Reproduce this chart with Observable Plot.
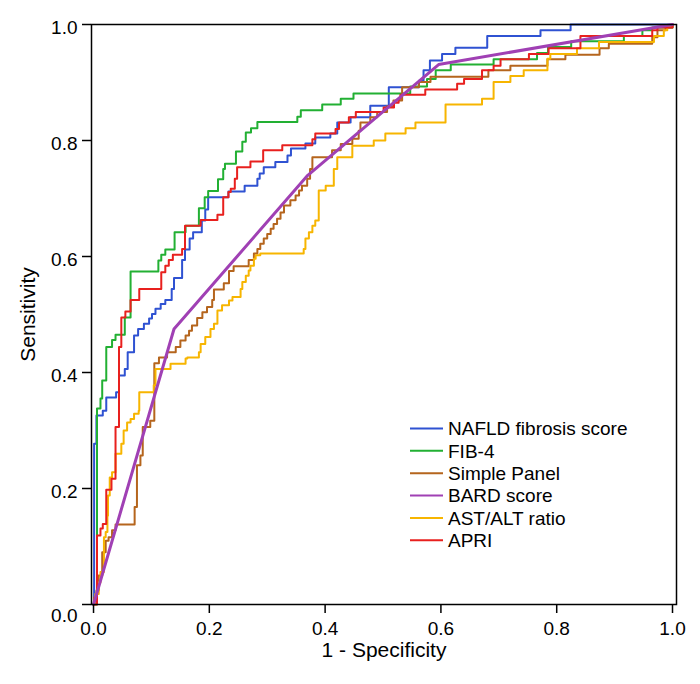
<!DOCTYPE html>
<html><head><meta charset="utf-8">
<script src="https://cdn.jsdelivr.net/npm/d3@7"></script>
<script src="https://cdn.jsdelivr.net/npm/@observablehq/plot@0.6"></script>
<style>
html,body{margin:0;padding:0;background:#fff;}
#chart{width:700px;height:684px;}
</style></head><body><div id="chart"></div>
<script>
// Series names and colours (legend order)
const seriesNames = ["NAFLD fibrosis score", "FIB-4", "Simple Panel", "BARD score", "AST/ALT ratio", "APRI"];
const seriesColors = ["#2f52d2", "#22b033", "#b5651d", "#a040b4", "#f7b500", "#e8201e"];

// ROC points [1 - specificity, sensitivity]
const nafld = [[0,0],[0.001,0.277],[0.005,0.326],[0.016,0.334],[0.022,0.357],[0.039,0.366],[0.044,0.395],[0.054,0.406],[0.059,0.435],[0.070,0.464],[0.077,0.475],[0.087,0.484],[0.096,0.493],[0.101,0.501],[0.107,0.510],[0.116,0.518],[0.124,0.525],[0.135,0.544],[0.139,0.563],[0.153,0.594],[0.158,0.612],[0.166,0.631],[0.172,0.642],[0.187,0.662],[0.193,0.681],[0.198,0.702],[0.233,0.712],[0.261,0.722],[0.283,0.734],[0.287,0.743],[0.294,0.754],[0.314,0.763],[0.335,0.774],[0.341,0.786],[0.366,0.795],[0.383,0.805],[0.409,0.812],[0.421,0.831],[0.444,0.840],[0.478,0.860],[0.510,0.892],[0.562,0.903],[0.570,0.921],[0.581,0.938],[0.602,0.949],[0.625,0.960],[0.680,0.980],[0.772,0.990],[0.824,1.0],[1,1]];
const fib4 = [[0,0],[0.006,0.338],[0.012,0.355],[0.015,0.386],[0.022,0.444],[0.032,0.456],[0.038,0.465],[0.054,0.495],[0.064,0.574],[0.112,0.593],[0.117,0.603],[0.124,0.612],[0.140,0.642],[0.159,0.653],[0.182,0.683],[0.192,0.702],[0.198,0.713],[0.215,0.733],[0.224,0.751],[0.227,0.760],[0.246,0.781],[0.257,0.798],[0.263,0.814],[0.272,0.821],[0.283,0.832],[0.352,0.841],[0.358,0.852],[0.395,0.862],[0.427,0.872],[0.449,0.881],[0.547,0.893],[0.576,0.906],[0.591,0.921],[0.617,0.931],[0.691,0.940],[0.766,0.951],[0.785,0.961],[0.825,0.971],[0.916,0.980],[0.948,0.990],[0.965,0.995],[1,1]];
const simplePanel = [[0,0],[0.001,0.012],[0.005,0.024],[0.009,0.050],[0.015,0.090],[0.021,0.110],[0.026,0.116],[0.032,0.128],[0.038,0.138],[0.071,0.168],[0.075,0.240],[0.081,0.257],[0.085,0.306],[0.098,0.317],[0.105,0.416],[0.113,0.426],[0.127,0.435],[0.142,0.444],[0.150,0.455],[0.159,0.464],[0.165,0.472],[0.170,0.481],[0.179,0.494],[0.188,0.504],[0.196,0.513],[0.205,0.525],[0.208,0.543],[0.225,0.554],[0.234,0.575],[0.242,0.583],[0.268,0.594],[0.277,0.605],[0.283,0.613],[0.288,0.622],[0.294,0.631],[0.300,0.639],[0.306,0.648],[0.311,0.656],[0.317,0.665],[0.323,0.676],[0.329,0.688],[0.340,0.697],[0.349,0.705],[0.355,0.714],[0.360,0.722],[0.369,0.734],[0.374,0.751],[0.378,0.771],[0.412,0.783],[0.427,0.794],[0.447,0.803],[0.458,0.817],[0.461,0.831],[0.478,0.840],[0.490,0.849],[0.507,0.859],[0.518,0.869],[0.533,0.892],[0.562,0.901],[0.582,0.910],[0.682,0.921],[0.720,0.929],[0.784,0.940],[0.815,0.948],[0.874,0.959],[0.890,0.967],[0.965,0.978],[0.974,0.990],[0.988,0.995],[1,1]];
const bard = [[0,0],[0.139,0.475],[0.370,0.740],[0.596,0.931],[1,1]];
const astAlt = [[0,0],[0.003,0.018],[0.009,0.038],[0.012,0.056],[0.018,0.116],[0.021,0.125],[0.024,0.153],[0.025,0.188],[0.028,0.219],[0.032,0.228],[0.038,0.260],[0.048,0.277],[0.052,0.300],[0.058,0.314],[0.064,0.320],[0.070,0.329],[0.078,0.334],[0.079,0.366],[0.104,0.378],[0.107,0.406],[0.133,0.415],[0.159,0.424],[0.162,0.426],[0.182,0.435],[0.185,0.449],[0.193,0.461],[0.202,0.475],[0.208,0.484],[0.214,0.507],[0.222,0.516],[0.234,0.524],[0.240,0.530],[0.254,0.544],[0.257,0.556],[0.263,0.567],[0.268,0.576],[0.271,0.584],[0.277,0.596],[0.280,0.602],[0.288,0.605],[0.363,0.613],[0.366,0.631],[0.372,0.642],[0.378,0.653],[0.383,0.662],[0.389,0.714],[0.401,0.722],[0.415,0.751],[0.421,0.771],[0.447,0.791],[0.484,0.800],[0.504,0.812],[0.539,0.821],[0.556,0.831],[0.608,0.862],[0.671,0.872],[0.691,0.901],[0.720,0.911],[0.743,0.921],[0.784,0.941],[0.789,0.949],[0.835,0.959],[0.873,0.970],[0.968,0.980],[0.985,0.990],[0.991,0.998],[1,1]];
const apri = [[0,0],[0.006,0.119],[0.012,0.131],[0.016,0.139],[0.022,0.198],[0.031,0.217],[0.038,0.306],[0.044,0.444],[0.048,0.495],[0.055,0.505],[0.064,0.525],[0.079,0.544],[0.117,0.573],[0.124,0.584],[0.130,0.594],[0.137,0.603],[0.153,0.613],[0.158,0.653],[0.185,0.663],[0.214,0.672],[0.224,0.702],[0.233,0.711],[0.237,0.717],[0.244,0.734],[0.248,0.754],[0.271,0.764],[0.293,0.783],[0.326,0.792],[0.378,0.802],[0.383,0.812],[0.418,0.820],[0.424,0.831],[0.441,0.840],[0.453,0.849],[0.501,0.857],[0.519,0.865],[0.527,0.872],[0.530,0.879],[0.573,0.888],[0.628,0.898],[0.640,0.906],[0.671,0.921],[0.691,0.929],[0.703,0.940],[0.752,0.949],[0.786,0.959],[0.841,0.980],[0.965,0.990],[0.974,0.995],[1,1]];

const xTicks = [0, 0.2, 0.4, 0.6, 0.8, 1.0];
const yTicks = [0, 0.2, 0.4, 0.6, 0.8, 1.0];
const xTitle = "1 - Specificity";
const yTitle = "Sensitivity";

const toRows = (pts, name) => pts.map(([fpr, tpr]) => ({name, fpr, tpr}));
const stepSeries = [
  ["NAFLD fibrosis score", nafld],
  ["FIB-4", fib4],
  ["Simple Panel", simplePanel],
  ["AST/ALT ratio", astAlt],
  ["APRI", apri]
];
const font = "'Liberation Sans', Arial, Helvetica, sans-serif";
const fmt = d => d.toFixed(1);

const stepMarks = stepSeries.map(([name, pts]) =>
  Plot.line(toRows(pts, name), {x: "fpr", y: "tpr", stroke: "name", curve: "step-after", strokeWidth: 2})
);

const chart = Plot.plot({
  width: 700,
  height: 684,
  marginLeft: 91,
  marginRight: 24,
  marginTop: 24,
  marginBottom: 80,
  style: {fontFamily: font, fontSize: "19px", background: "#fff", color: "#000", overflow: "visible"},
  x: {domain: [-0.0035, 1.0069]},
  y: {domain: [0, 1]},
  color: {domain: seriesNames, range: seriesColors},
  marks: [
    ...stepMarks,
    Plot.line(toRows(bard, "BARD score"), {x: "fpr", y: "tpr", stroke: "name", strokeWidth: 3}),
    Plot.frame({stroke: "#000", strokeWidth: 1.5}),
    Plot.axisX({ticks: xTicks, tickFormat: fmt, tickSize: 9, tickPadding: 8, fontSize: 19, label: null, strokeWidth: 1.5}),
    Plot.axisY({ticks: yTicks, tickFormat: fmt, tickSize: 9, tickPadding: 5, fontSize: 19, label: null, strokeWidth: 1.5, text: null}),
    Plot.axisY({ticks: yTicks.filter(t => t > 0), tickFormat: fmt, tickSize: 9, tickPadding: 5, fontSize: 19, label: null, tickSize: 0, dx: -9, dy: 3}),
    Plot.axisY({ticks: yTicks.filter(t => t === 0), tickFormat: fmt, tickSize: 0, tickPadding: 5, fontSize: 19, label: null, dx: -9, dy: 11}),
    Plot.text([xTitle], {text: d => d, frameAnchor: "bottom", dy: 52, fontSize: 21}),
    Plot.text([yTitle], {text: d => d, frameAnchor: "left", textAnchor: "middle", rotate: -90, dx: -63, fontSize: 21})
  ]
});

// Legend inside the plot area (bottom right)
const svg = d3.select(chart);
const lg = svg.append("g").attr("font-family", font).attr("font-size", 19).attr("text-anchor", "start");
seriesNames.forEach((name, i) => {
  const yy = 428.5 + i * 22.35;
  lg.append("line").attr("x1", 410).attr("x2", 443).attr("y1", yy).attr("y2", yy)
    .attr("stroke", seriesColors[i]).attr("stroke-width", 2);
  lg.append("text").attr("x", 448).attr("y", yy).attr("dy", "0.35em").attr("fill", "#000").text(name);
});

document.getElementById("chart").appendChild(chart);
</script></body></html>
